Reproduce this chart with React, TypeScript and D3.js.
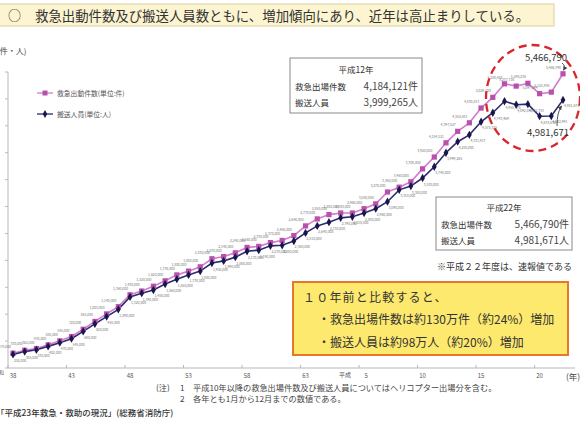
import React from 'react';
import * as d3 from 'd3';

const years = [
  1963, 1964, 1965, 1966, 1967, 1968, 1969, 1970, 1971, 1972,
  1973, 1974, 1975, 1976, 1977, 1978, 1979, 1980, 1981, 1982,
  1983, 1984, 1985, 1986, 1987, 1988, 1989, 1990, 1991, 1992,
  1993, 1994, 1995, 1996, 1997, 1998, 1999, 2000, 2001, 2002,
  2003, 2004, 2005, 2006, 2007, 2008, 2009, 2010,
];

// 救急出動件数 (件)
const dispatches = [
  275000, 330000, 362000, 430000, 505000, 585000, 720000, 865000, 1005000, 1140000,
  1360000, 1430000, 1520000, 1620000, 1730000, 1800000, 1880000, 2030000, 2070000, 2140000,
  2240000, 2260000, 2330000, 2370000, 2460000, 2640000, 2770000, 2850000, 2880000, 2880000,
  2960000, 3050000, 3270000, 3360000, 3460000, 3700000, 3920000, 4184121, 4397527, 4555881,
  4830813, 5029108, 5280428, 5237716, 5290236, 5097094, 5125936, 5466790,
];

// 搬送人員 (人)
const persons = [
  252000, 305000, 338000, 402000, 470000, 545000, 680000, 820000, 955000, 1090000,
  1320000, 1390000, 1450000, 1560000, 1650000, 1730000, 1800000, 1950000, 1990000, 2060000,
  2170000, 2190000, 2270000, 2280000, 2360000, 2510000, 2640000, 2710000, 2790000, 2810000,
  2880000, 2960000, 3090000, 3310000, 3380000, 3530000, 3740000, 3999265, 4205000, 4331917,
  4575325, 4743469, 4955976, 4892593, 4902753, 4678636, 4682991, 4981671,
];

const xTickYears = [1963, 1968, 1973, 1978, 1983, 1988, 1993, 1998, 2003, 2008];
const xTickLabels = ['38', '43', '48', '53', '58', '63', '5', '10', '15', '20'];
const yTicks = [0, 500000, 1000000, 1500000, 2000000, 2500000, 3000000, 3500000, 4000000, 4500000, 5000000, 5500000];

const seriesNames = ['救急出動件数(単位:件)', '搬送人員(単位:人)'];
const titleText = '救急出動件数及び搬送人員数ともに、増加傾向にあり、近年は高止まりしている。';

const F = "'Noto Sans CJK JP', 'Noto Sans', sans-serif";
const PINK_LINE = '#d27ccc';
const PINK_MARK = '#b850ac';
const NAVY_LINE = '#2b2b70';
const NAVY_MARK = '#17174e';

export default function App() {
  const W = 580, H = 425;
  const x = d3.scaleLinear().domain([1963, 2010]).range([13, 563]);
  const y = d3.scaleLinear().domain([0, 5500000]).range([368, 72]);
  const fmt = d3.format(',');
  const lineGen = d3.line<number>().x((_, i) => x(years[i])).y((d) => y(d));
  const diamond = d3.symbol().type(d3.symbolDiamond).size(20)() as string;
  const diamondLegend = d3.symbol().type(d3.symbolDiamond).size(18)() as string;

  return (
    <svg width={W} height={H} style={{ position: 'absolute', left: 0, top: 0, background: '#fff' }} fontFamily={F}>
      <defs>
        <marker id="arr" viewBox="0 0 6 6" refX="5" refY="3" markerWidth="5" markerHeight="5" orient="auto">
          <path d="M0,0 L6,3 L0,6 Z" fill="#444" />
        </marker>
      </defs>

      {/* title bar */}
      <rect x={-2} y={4} width={556} height={22} fill="#fdf5d2" stroke="#d9cf9c" strokeWidth={1} />
      <text x={8} y={20} fontSize={13} fill="#333">○</text>
      <text x={35} y={20.5} fontSize={13.4} fill="#333">{titleText}</text>

      {/* y-axis unit */}
      <text x={-3} y={54} fontSize={8} fill="#444">(件・人)</text>

      {/* axes */}
      <line x1={8} x2={8} y1={y(5500000)} y2={y(0)} stroke="#b8b8b8" strokeWidth={1} />
      {yTicks.map((t) => (
        <line key={t} x1={5} x2={8} y1={y(t)} y2={y(t)} stroke="#b8b8b8" strokeWidth={1} />
      ))}
      <line x1={8} x2={575} y1={y(0)} y2={y(0)} stroke="#b8b8b8" strokeWidth={1} />
      {xTickYears.map((yr, i) => (
        <g key={yr}>
          <line x1={x(yr) - 5} x2={x(yr) - 5} y1={y(0)} y2={y(0) - 3} stroke="#b8b8b8" />
          <text x={x(yr) + (xTickLabels[i] === '5' ? 2 : 0)} y={378} fontSize={6} fill="#555" textAnchor="middle">{xTickLabels[i]}</text>
        </g>
      ))}
      <text x={345} y={377} fontSize={6} fill="#555" textAnchor="middle">平成</text>
      <text x={-6} y={374} fontSize={5} fill="#555">昭和</text>
      <text x={566} y={380} fontSize={8.5} fill="#444">(年)</text>

      {/* legend */}
      <line x1={37} x2={53} y1={93} y2={93} stroke={PINK_LINE} strokeWidth={1.3} />
      <rect x={42.5} y={90.5} width={5} height={5} fill={PINK_MARK} />
      <text x={57} y={95.5} fontSize={6.8} fill="#555">{seriesNames[0]}</text>
      <line x1={37} x2={53} y1={114} y2={114} stroke={NAVY_LINE} strokeWidth={1.3} />
      <path d={diamondLegend} transform="translate(45,114)" fill={NAVY_MARK} />
      <text x={57} y={116.5} fontSize={6.8} fill="#555">{seriesNames[1]}</text>

      {/* series lines */}
      <path d={lineGen(dispatches) as string} fill="none" stroke={PINK_LINE} strokeWidth={1.6} />
      <path d={lineGen(persons) as string} fill="none" stroke={NAVY_LINE} strokeWidth={1.6} />

      {/* markers + value labels */}
      {dispatches.map((v, i) => (
        <g key={'d' + i}>
          <rect x={x(years[i]) - 2.6} y={y(v) - 2.6} width={5.2} height={5.2} fill={PINK_MARK} />
          <text x={x(years[i]) - 2} y={y(v) - 5} fontSize={3.4} fill="#777" textAnchor="end">{fmt(v)}</text>
        </g>
      ))}
      {persons.map((v, i) => (
        <g key={'p' + i}>
          <path d={diamond} transform={`translate(${x(years[i])},${y(v)})`} fill={NAVY_MARK} />
          <text x={x(years[i]) + 1} y={y(v) + 7.5} fontSize={3.4} fill="#777">{fmt(v)}</text>
        </g>
      ))}

      {/* 平成12年 box */}
      <rect x={290} y={58} width={132} height={55} fill="#fff" stroke="#8a8a8a" strokeWidth={1} />
      <text x={356} y={73} fontSize={8.5} fill="#333" textAnchor="middle">平成12年</text>
      <text x={295} y={90} fontSize={8.5} fill="#333">救急出場件数</text>
      <text x={418} y={90} fontSize={10} fill="#444" textAnchor="end">{fmt(dispatches[37])}件</text>
      <text x={295} y={106} fontSize={8.5} fill="#333">搬送人員</text>
      <text x={418} y={106} fontSize={10} fill="#444" textAnchor="end">{fmt(persons[37])}人</text>

      {/* 平成22年 box */}
      <rect x={436} y={197} width={136} height={53} fill="#fff" stroke="#8a8a8a" strokeWidth={1} />
      <text x={504} y={211} fontSize={8.5} fill="#333" textAnchor="middle">平成22年</text>
      <text x={441} y={228} fontSize={8.5} fill="#333">救急出場件数</text>
      <text x={569} y={228} fontSize={10} fill="#444" textAnchor="end">{fmt(dispatches[47])}件</text>
      <text x={441} y={244} fontSize={8.5} fill="#333">搬送人員</text>
      <text x={569} y={244} fontSize={10} fill="#444" textAnchor="end">{fmt(persons[47])}人</text>
      <text x={437} y={270} fontSize={9} fill="#333">※平成２２年度は、速報値である</text>

      {/* highlight ellipse */}
      <ellipse cx={533} cy={98} rx={47} ry={53} fill="none" stroke="#d8272c" strokeWidth={2.3} strokeDasharray="8 5" />
      <text x={546} y={61} fontSize={9.5} fill="#333" textAnchor="middle">{fmt(dispatches[47])}</text>
      <path d="M562,63 Q566,66 563.5,70" fill="none" stroke="#444" strokeWidth={0.9} markerEnd="url(#arr)" />
      <text x={548} y={136} fontSize={9.5} fill="#333" textAnchor="middle">{fmt(persons[47])}</text>
      <path d="M557,126 Q557,112 561.5,106" fill="none" stroke="#444" strokeWidth={0.9} markerEnd="url(#arr)" />

      {/* yellow summary box */}
      <rect x={293} y={282} width={275} height={73} fill="#fde96e" stroke="#e7782b" strokeWidth={2} />
      <text x={303} y={302} fontSize={12} fill="#333" letterSpacing={1.2}>１０年前と比較すると、</text>
      <text x={318} y={324} fontSize={12} fill="#333">・救急出場件数は約130万件（約24%）増加</text>
      <text x={318} y={347} fontSize={12} fill="#333">・搬送人員は約98万人（約20%）増加</text>

      {/* notes */}
      <text x={156} y={391} fontSize={8.2} fill="#444">(注)</text>
      <text x={180} y={391} fontSize={8.2} fill="#444">1</text>
      <text x={193} y={391} fontSize={8.2} fill="#444">平成10年以降の救急出場件数及び搬送人員についてはヘリコプター出場分を含む。</text>
      <text x={180} y={402} fontSize={8.2} fill="#444">2</text>
      <text x={193} y={402} fontSize={8.2} fill="#444">各年とも1月から12月までの数値である。</text>

      {/* source */}
      <text x={-4} y={416} fontSize={8.5} fill="#333" fontWeight={500}>「平成23年救急・救助の現況」(総務省消防庁)</text>
    </svg>
  );
}
